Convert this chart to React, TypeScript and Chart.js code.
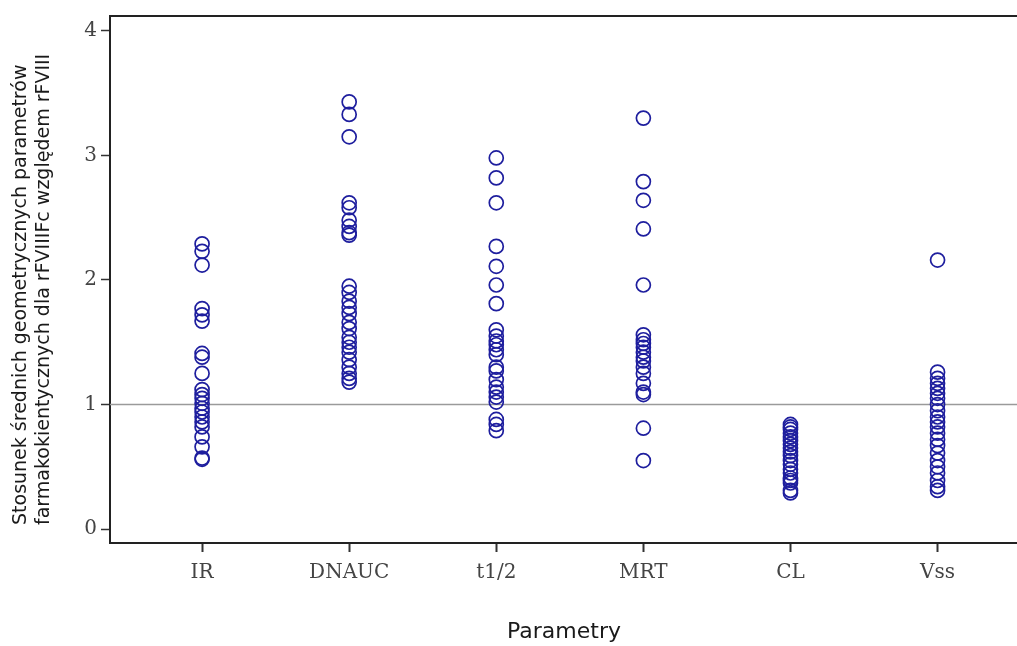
import React, { useEffect, useRef } from "react";
import { Chart, registerables } from "chart.js";

Chart.register(...registerables);

const categories = ["IR", "DNAUC", "t1/2", "MRT", "CL", "Vss"];
const yTicks = [0, 1, 2, 3, 4];
const referenceValue = 1;

const irValues = [2.29, 2.23, 2.12, 1.77, 1.72, 1.67, 1.41, 1.38, 1.25, 1.12, 1.08, 1.05, 1.01, 0.97, 0.94, 0.9, 0.86, 0.82, 0.74, 0.66, 0.57, 0.56];
const dnaucValues = [3.43, 3.33, 3.15, 2.62, 2.58, 2.48, 2.43, 2.38, 2.36, 1.95, 1.9, 1.83, 1.78, 1.73, 1.66, 1.61, 1.54, 1.5, 1.46, 1.42, 1.36, 1.3, 1.25, 1.21, 1.18];
const t12Values = [2.98, 2.82, 2.62, 2.27, 2.11, 1.96, 1.81, 1.6, 1.55, 1.51, 1.48, 1.44, 1.4, 1.3, 1.27, 1.2, 1.14, 1.1, 1.06, 1.02, 0.88, 0.84, 0.79];
const mrtValues = [3.3, 2.79, 2.64, 2.41, 1.96, 1.56, 1.52, 1.49, 1.46, 1.42, 1.38, 1.35, 1.3, 1.25, 1.17, 1.1, 1.08, 0.81, 0.55];
const clValues = [0.84, 0.82, 0.8, 0.77, 0.74, 0.71, 0.68, 0.65, 0.62, 0.59, 0.55, 0.52, 0.48, 0.45, 0.41, 0.39, 0.37, 0.31, 0.29];
const vssValues = [2.16, 1.26, 1.21, 1.17, 1.13, 1.09, 1.05, 1.0, 0.95, 0.9, 0.86, 0.82, 0.77, 0.72, 0.67, 0.61, 0.55, 0.5, 0.45, 0.39, 0.34, 0.31];

const seriesValues = [irValues, dnaucValues, t12Values, mrtValues, clValues, vssValues];

const yTitleLines = [
  "Stosunek średnich geometrycznych parametrów",
  "farmakokientycznych dla rFVIIIFc względem rFVIII",
];
const xTitle = "Parametry";

const App: React.FC = () => {
  const canvasRef = useRef<HTMLCanvasElement | null>(null);

  useEffect(() => {
    if (!canvasRef.current) return;

    const points: { x: number; y: number }[] = [];
    seriesValues.forEach((vals, i) => {
      vals.forEach((v) => points.push({ x: i, y: v }));
    });

    const decorPlugin = {
      id: "decor",
      beforeDatasetsDraw(chart: any) {
        const { ctx, chartArea, scales } = chart;
        const y = scales.y.getPixelForValue(referenceValue);
        ctx.save();
        ctx.strokeStyle = "#9a9a9a";
        ctx.lineWidth = 1.5;
        ctx.beginPath();
        ctx.moveTo(chartArea.left, y);
        ctx.lineTo(chartArea.right, y);
        ctx.stroke();
        ctx.strokeStyle = "#222";
        ctx.lineWidth = 2;
        ctx.beginPath();
        ctx.moveTo(chartArea.left, chartArea.top);
        ctx.lineTo(chartArea.right, chartArea.top);
        ctx.stroke();
        ctx.restore();
      },
      afterDraw(chart: any) {
        const { ctx } = chart;
        ctx.save();
        ctx.fillStyle = "#1a1a1a";
        ctx.font = "19px 'DejaVu Sans'";
        ctx.textBaseline = "middle";
        ctx.textAlign = "left";
        const xs = [21, 44];
        yTitleLines.forEach((line, i) => {
          ctx.save();
          ctx.translate(xs[i], 525);
          ctx.rotate(-Math.PI / 2);
          ctx.fillText(line, 0, 0);
          ctx.restore();
        });
        ctx.font = "22px 'DejaVu Sans'";
        ctx.textAlign = "center";
        ctx.fillText(xTitle, 564, 632);
        ctx.restore();
      },
    };

    const chart = new Chart(canvasRef.current, {
      type: "scatter",
      data: {
        datasets: [
          {
            data: points,
            pointStyle: "circle",
            pointRadius: 7,
            pointHoverRadius: 7,
            pointBorderWidth: 1.7,
            pointBorderColor: "#1e1e9e",
            pointBackgroundColor: "rgba(0,0,0,0)",
          },
        ],
      },
      options: {
        responsive: false,
        animation: false,
        layout: { autoPadding: false, padding: { top: 16, right: 0, left: 0, bottom: 0 } },
        plugins: {
          legend: { display: false },
          tooltip: { enabled: false },
        },
        scales: {
          x: {
            type: "linear",
            min: -0.626,
            max: 5.54,
            afterBuildTicks: (scale: any) => {
              scale.ticks = categories.map((_, i) => ({ value: i }));
            },
            afterFit: (scale: any) => {
              scale.height = 103;
            },
            ticks: {
              callback: (v: any) => categories[v as number] ?? "",
              font: { family: "'DejaVu Serif'", size: 20 },
              color: "#444",
              padding: 9,
              maxRotation: 0,
            },
            grid: {
              display: true,
              drawOnChartArea: false,
              drawTicks: true,
              tickLength: 9,
              tickWidth: 2,
              color: "#333",
            },
            border: { display: true, color: "#222", width: 2 },
          },
          y: {
            type: "linear",
            min: -0.112,
            max: 4.12,
            afterBuildTicks: (scale: any) => {
              scale.ticks = yTicks.map((v) => ({ value: v }));
            },
            afterFit: (scale: any) => {
              scale.width = 110;
            },
            ticks: {
              font: { family: "'DejaVu Serif'", size: 20 },
              color: "#444",
              padding: 4,
            },
            grid: {
              display: true,
              drawOnChartArea: false,
              drawTicks: true,
              tickLength: 9,
              tickWidth: 1.5,
              color: "#333",
            },
            border: { display: true, color: "#222", width: 2 },
          },
        },
      },
      plugins: [decorPlugin],
    });

    return () => chart.destroy();
  }, []);

  return (
    <div style={{ position: "absolute", left: 0, top: 0, width: 1017, height: 646, background: "#fff" }}>
      <canvas ref={canvasRef} width={1017} height={646} style={{ display: "block" }} />
    </div>
  );
};

export default App;
